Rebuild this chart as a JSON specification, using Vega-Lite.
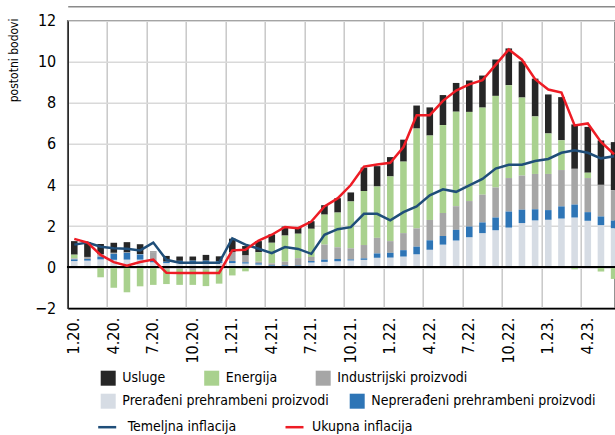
{
  "$schema": "https://vega.github.io/schema/vega-lite/v6.json",
  "autosize": {"type": "none"},
  "padding": {"left": 67.7, "top": 20.7, "right": 0, "bottom": 126.7},
  "width": 547.3,
  "height": 287.6,
  "config": {
    "font": "DejaVu Sans Condensed, Liberation Sans, sans-serif",
    "view": {"stroke": "#707070", "strokeWidth": 1.5},
    "axis": {"labelFont": "DejaVu Sans Condensed, Liberation Sans, sans-serif", "labelFontSize": 15, "labelColor": "#000", "titleFont": "DejaVu Sans Condensed, Liberation Sans, sans-serif", "titleColor": "#000"},
    "legend": {"labelFont": "DejaVu Sans Condensed, Liberation Sans, sans-serif", "labelFontSize": 14, "labelColor": "#000", "padding": 0, "rowPadding": 0, "labelLimit": 400, "symbolStrokeWidth": 0}
  },
  "data": {"values": [
    {"m": "1.20.", "Usluge": 0.66, "Energija": 0.18, "Industrijski proizvodi": 0.05, "Prerađeni prehrambeni proizvodi": 0.30, "Neprerađeni prehrambeni proizvodi": 0.08, "Temeljna inflacija": 1.10, "Ukupna inflacija": 1.38},
    {"m": "2.20.", "Usluge": 0.72, "Energija": -0.05, "Industrijski proizvodi": 0.10, "Prerađeni prehrambeni proizvodi": 0.32, "Neprerađeni prehrambeni proizvodi": 0.08, "Temeljna inflacija": 1.20, "Ukupna inflacija": 1.20},
    {"m": "3.20.", "Usluge": 0.50, "Energija": -0.49, "Industrijski proizvodi": 0.12, "Prerađeni prehrambeni proizvodi": 0.38, "Neprerađeni prehrambeni proizvodi": 0.13, "Temeljna inflacija": 1.00, "Ukupna inflacija": 0.60},
    {"m": "4.20.", "Usluge": 0.49, "Energija": -1.00, "Industrijski proizvodi": 0.05, "Prerađeni prehrambeni proizvodi": 0.36, "Neprerađeni prehrambeni proizvodi": 0.29, "Temeljna inflacija": 0.92, "Ukupna inflacija": 0.25},
    {"m": "5.20.", "Usluge": 0.50, "Energija": -1.22, "Industrijski proizvodi": 0.02, "Prerađeni prehrambeni proizvodi": 0.37, "Neprerađeni prehrambeni proizvodi": 0.33, "Temeljna inflacija": 0.90, "Ukupna inflacija": 0.07},
    {"m": "6.20.", "Usluge": 0.48, "Energija": -0.93, "Industrijski proizvodi": 0.02, "Prerađeni prehrambeni proizvodi": 0.37, "Neprerađeni prehrambeni proizvodi": 0.25, "Temeljna inflacija": 0.82, "Ukupna inflacija": 0.25},
    {"m": "7.20.", "Usluge": 0.03, "Energija": -0.86, "Industrijski proizvodi": 0.41, "Prerađeni prehrambeni proizvodi": 0.24, "Neprerađeni prehrambeni proizvodi": 0.08, "Temeljna inflacija": 1.20, "Ukupna inflacija": 0.37},
    {"m": "8.20.", "Usluge": 0.28, "Energija": -0.72, "Industrijski proizvodi": -0.10, "Prerađeni prehrambeni proizvodi": 0.20, "Neprerađeni prehrambeni proizvodi": 0.07, "Temeljna inflacija": 0.36, "Ukupna inflacija": -0.27},
    {"m": "9.20.", "Usluge": 0.21, "Energija": -0.78, "Industrijski proizvodi": -0.08, "Prerađeni prehrambeni proizvodi": 0.23, "Neprerađeni prehrambeni proizvodi": 0.08, "Temeljna inflacija": 0.22, "Ukupna inflacija": -0.28},
    {"m": "10.20.", "Usluge": 0.20, "Energija": -0.73, "Industrijski proizvodi": -0.13, "Prerađeni prehrambeni proizvodi": 0.24, "Neprerađeni prehrambeni proizvodi": 0.08, "Temeljna inflacija": 0.22, "Ukupna inflacija": -0.28},
    {"m": "11.20.", "Usluge": 0.28, "Energija": -0.81, "Industrijski proizvodi": -0.11, "Prerađeni prehrambeni proizvodi": 0.24, "Neprerađeni prehrambeni proizvodi": 0.08, "Temeljna inflacija": 0.22, "Ukupna inflacija": -0.28},
    {"m": "12.20.", "Usluge": 0.23, "Energija": -0.70, "Industrijski proizvodi": -0.10, "Prerađeni prehrambeni proizvodi": 0.20, "Neprerađeni prehrambeni proizvodi": 0.10, "Temeljna inflacija": 0.22, "Ukupna inflacija": -0.28},
    {"m": "1.21.", "Usluge": 0.65, "Energija": -0.40, "Industrijski proizvodi": 0.44, "Prerađeni prehrambeni proizvodi": 0.20, "Neprerađeni prehrambeni proizvodi": 0.10, "Temeljna inflacija": 1.40, "Ukupna inflacija": 0.82},
    {"m": "2.21.", "Usluge": 0.46, "Energija": -0.20, "Industrijski proizvodi": 0.33, "Prerađeni prehrambeni proizvodi": 0.18, "Neprerađeni prehrambeni proizvodi": 0.06, "Temeljna inflacija": 1.10, "Ukupna inflacija": 0.85},
    {"m": "3.21.", "Usluge": 0.54, "Energija": 0.46, "Industrijski proizvodi": 0.08, "Prerađeni prehrambeni proizvodi": 0.13, "Neprerađeni prehrambeni proizvodi": 0.06, "Temeljna inflacija": 0.90, "Ukupna inflacija": 1.30},
    {"m": "4.21.", "Usluge": 0.41, "Energija": 1.00, "Industrijski proizvodi": 0.10, "Prerađeni prehrambeni proizvodi": 0.06, "Neprerađeni prehrambeni proizvodi": 0.03, "Temeljna inflacija": 0.68, "Ukupna inflacija": 1.58},
    {"m": "5.21.", "Usluge": 0.44, "Energija": 1.27, "Industrijski proizvodi": 0.17, "Prerađeni prehrambeni proizvodi": 0.07, "Neprerađeni prehrambeni proizvodi": 0.03, "Temeljna inflacija": 0.98, "Ukupna inflacija": 1.96},
    {"m": "6.21.", "Usluge": 0.33, "Energija": 1.19, "Industrijski proizvodi": 0.36, "Prerađeni prehrambeni proizvodi": 0.06, "Neprerađeni prehrambeni proizvodi": 0.02, "Temeljna inflacija": 0.89, "Ukupna inflacija": 1.90},
    {"m": "7.21.", "Usluge": 0.37, "Energija": 1.37, "Industrijski proizvodi": 0.20, "Prerađeni prehrambeni proizvodi": 0.23, "Neprerađeni prehrambeni proizvodi": 0.07, "Temeljna inflacija": 0.65, "Ukupna inflacija": 2.22},
    {"m": "8.21.", "Usluge": 0.46, "Energija": 1.46, "Industrijski proizvodi": 0.73, "Prerađeni prehrambeni proizvodi": 0.26, "Neprerađeni prehrambeni proizvodi": 0.11, "Temeljna inflacija": 1.58, "Ukupna inflacija": 2.96},
    {"m": "9.21.", "Usluge": 0.70, "Energija": 1.69, "Industrijski proizvodi": 0.57, "Prerađeni prehrambeni proizvodi": 0.29, "Neprerađeni prehrambeni proizvodi": 0.11, "Temeljna inflacija": 1.85, "Ukupna inflacija": 3.35},
    {"m": "10.21.", "Usluge": 0.44, "Energija": 2.28, "Industrijski proizvodi": 0.54, "Prerađeni prehrambeni proizvodi": 0.33, "Neprerađeni prehrambeni proizvodi": 0.05, "Temeljna inflacija": 1.95, "Ukupna inflacija": 4.00},
    {"m": "11.21.", "Usluge": 1.14, "Energija": 2.63, "Industrijski proizvodi": 0.65, "Prerađeni prehrambeni proizvodi": 0.36, "Neprerađeni prehrambeni proizvodi": 0.07, "Temeljna inflacija": 2.60, "Ukupna inflacija": 4.90},
    {"m": "12.21.", "Usluge": 0.99, "Energija": 2.50, "Industrijski proizvodi": 0.76, "Prerađeni prehrambeni proizvodi": 0.46, "Neprerađeni prehrambeni proizvodi": 0.21, "Temeljna inflacija": 2.60, "Ukupna inflacija": 5.00},
    {"m": "1.22.", "Usluge": 0.94, "Energija": 3.15, "Industrijski proizvodi": 0.57, "Prerađeni prehrambeni proizvodi": 0.47, "Neprerađeni prehrambeni proizvodi": 0.23, "Temeljna inflacija": 2.28, "Ukupna inflacija": 5.08},
    {"m": "2.22.", "Usluge": 1.07, "Energija": 3.48, "Industrijski proizvodi": 0.83, "Prerađeni prehrambeni proizvodi": 0.52, "Neprerađeni prehrambeni proizvodi": 0.31, "Temeljna inflacija": 2.68, "Ukupna inflacija": 5.85},
    {"m": "3.22.", "Usluge": 1.12, "Energija": 4.86, "Industrijski proizvodi": 0.89, "Prerađeni prehrambeni proizvodi": 0.63, "Neprerađeni prehrambeni proizvodi": 0.37, "Temeljna inflacija": 2.96, "Ukupna inflacija": 7.40},
    {"m": "4.22.", "Usluge": 1.37, "Energija": 4.11, "Industrijski proizvodi": 0.99, "Prerađeni prehrambeni proizvodi": 0.85, "Neprerađeni prehrambeni proizvodi": 0.46, "Temeljna inflacija": 3.50, "Ukupna inflacija": 7.40},
    {"m": "5.22.", "Usluge": 1.46, "Energija": 4.28, "Industrijski proizvodi": 1.12, "Prerađeni prehrambeni proizvodi": 1.10, "Neprerađeni prehrambeni proizvodi": 0.42, "Temeljna inflacija": 3.79, "Ukupna inflacija": 8.10},
    {"m": "6.22.", "Usluge": 1.40, "Energija": 4.60, "Industrijski proizvodi": 1.15, "Prerađeni prehrambeni proizvodi": 1.30, "Neprerađeni prehrambeni proizvodi": 0.52, "Temeljna inflacija": 3.67, "Ukupna inflacija": 8.60},
    {"m": "7.22.", "Usluge": 1.53, "Energija": 4.34, "Industrijski proizvodi": 1.24, "Prerađeni prehrambeni proizvodi": 1.46, "Neprerađeni prehrambeni proizvodi": 0.52, "Temeljna inflacija": 3.98, "Ukupna inflacija": 8.90},
    {"m": "8.22.", "Usluge": 1.56, "Energija": 4.24, "Industrijski proizvodi": 1.35, "Prerađeni prehrambeni proizvodi": 1.66, "Neprerađeni prehrambeni proizvodi": 0.52, "Temeljna inflacija": 4.30, "Ukupna inflacija": 9.10},
    {"m": "9.22.", "Usluge": 1.77, "Energija": 4.46, "Industrijski proizvodi": 1.46, "Prerađeni prehrambeni proizvodi": 1.80, "Neprerađeni prehrambeni proizvodi": 0.62, "Temeljna inflacija": 4.80, "Ukupna inflacija": 9.85},
    {"m": "10.22.", "Usluge": 1.79, "Energija": 4.52, "Industrijski proizvodi": 1.63, "Prerađeni prehrambeni proizvodi": 1.93, "Neprerađeni prehrambeni proizvodi": 0.78, "Temeljna inflacija": 4.99, "Ukupna inflacija": 10.60},
    {"m": "11.22.", "Usluge": 1.76, "Energija": 3.80, "Industrijski proizvodi": 1.66, "Prerađeni prehrambeni proizvodi": 2.15, "Neprerađeni prehrambeni proizvodi": 0.65, "Temeljna inflacija": 4.99, "Ukupna inflacija": 10.10},
    {"m": "12.22.", "Usluge": 1.84, "Energija": 2.80, "Industrijski proizvodi": 1.72, "Prerađeni prehrambeni proizvodi": 2.28, "Neprerađeni prehrambeni proizvodi": 0.54, "Temeljna inflacija": 5.17, "Ukupna inflacija": 9.15},
    {"m": "1.23.", "Usluge": 1.90, "Energija": 1.97, "Industrijski proizvodi": 1.76, "Prerađeni prehrambeni proizvodi": 2.31, "Neprerađeni prehrambeni proizvodi": 0.47, "Temeljna inflacija": 5.27, "Ukupna inflacija": 8.65},
    {"m": "2.23.", "Usluge": 2.10, "Energija": 1.45, "Industrijski proizvodi": 1.77, "Prerađeni prehrambeni proizvodi": 2.37, "Neprerađeni prehrambeni proizvodi": 0.59, "Temeljna inflacija": 5.57, "Ukupna inflacija": 8.50},
    {"m": "3.23.", "Usluge": 2.16, "Energija": -0.10, "Industrijski proizvodi": 1.74, "Prerađeni prehrambeni proizvodi": 2.42, "Neprerađeni prehrambeni proizvodi": 0.63, "Temeljna inflacija": 5.69, "Ukupna inflacija": 6.90},
    {"m": "4.23.", "Usluge": 2.23, "Energija": 0.26, "Industrijski proizvodi": 1.66, "Prerađeni prehrambeni proizvodi": 2.26, "Neprerađeni prehrambeni proizvodi": 0.42, "Temeljna inflacija": 5.57, "Ukupna inflacija": 7.00},
    {"m": "5.23.", "Usluge": 2.16, "Energija": -0.21, "Industrijski proizvodi": 1.54, "Prerađeni prehrambeni proizvodi": 2.05, "Neprerađeni prehrambeni proizvodi": 0.42, "Temeljna inflacija": 5.30, "Ukupna inflacija": 6.10},
    {"m": "6.23.", "Usluge": 2.34, "Energija": -0.57, "Industrijski proizvodi": 1.48, "Prerađeni prehrambeni proizvodi": 1.90, "Neprerađeni prehrambeni proizvodi": 0.37, "Temeljna inflacija": 5.40, "Ukupna inflacija": 5.50}
  ]},
  "layer": [
    {
      "transform": [
        {"fold": ["Usluge", "Energija", "Industrijski proizvodi", "Prerađeni prehrambeni proizvodi", "Neprerađeni prehrambeni proizvodi"], "as": ["cat", "v"]},
        {"calculate": "indexof(['Prerađeni prehrambeni proizvodi', 'Neprerađeni prehrambeni proizvodi', 'Industrijski proizvodi', 'Energija', 'Usluge'], datum.cat)", "as": "stackOrder"}
      ],
      "mark": {"type": "bar"},
      "encoding": {
        "x": {
          "field": "m", "type": "ordinal", "sort": null,
          "scale": {"range": [0, 553], "paddingInner": 0.5, "paddingOuter": 0.25},
          "axis": {
            "values": ["1.20.", "4.20.", "7.20.", "10.20.", "1.21.", "4.21.", "7.21.", "10.21.", "1.22.", "4.22.", "7.22.", "10.22.", "1.23.", "4.23."],
            "bandPosition": -0.5, "grid": true, "gridColor": "#c8c8c8", "gridWidth": 1.5,
            "ticks": false, "domainColor": "#000", "domainWidth": 1.5,
            "labelAngle": -90, "labelPadding": 9, "labelOverlap": false, "labelFontSize": 16, "title": null
          }
        },
        "y": {
          "field": "v", "type": "quantitative", "stack": "zero",
          "scale": {"domain": [-2, 12], "nice": false},
          "title": "postotni bodovi",
          "axis": {
            "values": [-2, 0, 2, 4, 6, 8, 10, 12], "grid": true, "gridColor": "#d9d9d9", "gridWidth": 1.5,
            "ticks": false, "domainColor": "#222", "domainWidth": 1.5, "labelPadding": 12, "labelFontSize": 16,
            "titleX": -47, "titleY": -2.7, "titleAlign": "right", "titleAngle": 270, "titleBaseline": "bottom",
            "titleFontSize": 12, "titleFontWeight": "normal"
          }
        },
        "order": {"field": "stackOrder", "type": "quantitative", "sort": "ascending"},
        "color": {
          "field": "cat", "type": "nominal",
          "scale": {
            "domain": ["Usluge", "Energija", "Industrijski proizvodi", "Prerađeni prehrambeni proizvodi", "Neprerađeni prehrambeni proizvodi"],
            "range": ["#262626", "#a9d18e", "#a6a6a6", "#d6dce4", "#2e75b6"]
          },
          "legend": null
        }
      }
    },
    {
      "mark": {"type": "rule", "color": "#000", "strokeWidth": 1.3},
      "encoding": {"y": {"datum": 0}}
    },
    {
      "transform": [{"fold": ["Temeljna inflacija"], "as": ["series", "v"]}],
      "mark": {"type": "line", "strokeWidth": 2.5},
      "encoding": {
        "x": {
          "field": "m", "type": "ordinal", "sort": null,
          "axis": {"orient": "top", "offset": 14.4, "domain": true, "domainColor": "#8a8a8a", "domainWidth": 1.5, "labels": false, "ticks": false, "grid": false, "title": null}
        },
        "y": {"field": "v", "type": "quantitative", "title": "postotni bodovi"},
        "color": {
          "field": "series", "type": "nominal",
          "scale": {"domain": ["Temeljna inflacija"], "range": ["#1f4e79"]},
          "legend": {
            "orient": "none", "legendX": 29, "legendY": 396, "direction": "horizontal",
            "symbolType": "stroke", "symbolSize": 324, "symbolStrokeWidth": 2.5,
            "labelOffset": 10, "title": null
          }
        }
      }
    },
    {
      "transform": [{"fold": ["Ukupna inflacija"], "as": ["series", "v"]}],
      "mark": {"type": "line", "strokeWidth": 2.5},
      "encoding": {
        "x": {"field": "m", "type": "ordinal", "sort": null, "axis": null},
        "y": {"field": "v", "type": "quantitative", "title": "postotni bodovi"},
        "color": {
          "field": "series", "type": "nominal",
          "scale": {"domain": ["Ukupna inflacija"], "range": ["#ee1c25"]},
          "legend": {
            "orient": "none", "legendX": 216.3, "legendY": 396, "direction": "horizontal",
            "symbolType": "stroke", "symbolSize": 324, "symbolStrokeWidth": 2.5,
            "labelOffset": 7, "title": null
          }
        }
      }
    },
    {
      "transform": [{"filter": "false"}],
      "mark": {"type": "bar"},
      "encoding": {
        "color": {
          "field": "m", "type": "nominal",
          "scale": {"domain": ["Usluge", "Energija", "Industrijski proizvodi"], "range": ["#262626", "#a9d18e", "#a6a6a6"]},
          "legend": {
            "orient": "none", "legendX": 33, "legendY": 350, "direction": "horizontal", "columns": 3,
            "columnPadding": 38.5, "symbolType": "square", "symbolSize": 225, "labelOffset": 6.6, "title": null
          }
        }
      }
    },
    {
      "transform": [{"filter": "false"}],
      "mark": {"type": "bar"},
      "encoding": {
        "color": {
          "field": "m", "type": "nominal",
          "scale": {"domain": ["Prerađeni prehrambeni proizvodi", "Neprerađeni prehrambeni proizvodi"], "range": ["#d6dce4", "#2e75b6"]},
          "legend": {
            "orient": "none", "legendX": 33, "legendY": 373, "direction": "horizontal", "columns": 2,
            "columnPadding": 20, "symbolType": "square", "symbolSize": 225, "labelOffset": 6.6, "title": null
          }
        }
      }
    }
  ],
  "resolve": {"scale": {"color": "independent"}, "axis": {"x": "independent"}}
}
